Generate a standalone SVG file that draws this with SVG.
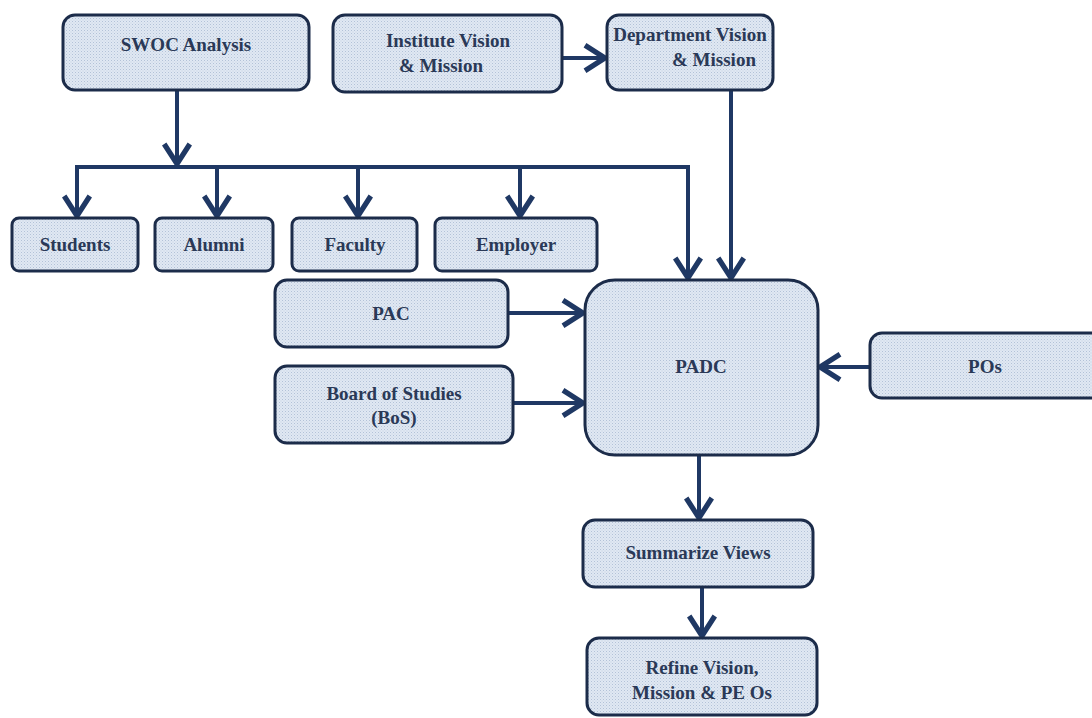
<svg xmlns="http://www.w3.org/2000/svg" width="1092" height="718" viewBox="0 0 1092 718">
  <defs>
    <!-- fine dotted fill used inside every box -->
    <pattern id="dots" width="3" height="3" patternUnits="userSpaceOnUse">
      <rect width="3" height="3" fill="#e0e8f3"/>
      <rect x="0" y="0" width="1" height="1" fill="#b3c2d7"/>
      <rect x="1.5" y="1.5" width="1" height="1" fill="#c4d1e2"/>
    </pattern>
    <marker id="arrow" markerWidth="8" markerHeight="8" refX="6.2" refY="4" orient="auto" markerUnits="strokeWidth" viewBox="0 0 8 8">
      <path d="M1.2,0.8 L6.2,4 L1.2,7.2" fill="none" stroke="#1f3864" stroke-width="1.3" stroke-linejoin="miter"/>
    </marker>
    <style>
      .box { fill: url(#dots); stroke: #1c2c4a; stroke-width: 3; }
      .lbl { font-family: "Liberation Serif", "Times New Roman", serif; font-weight: bold; font-size: 19px; fill: #2a3957; text-anchor: middle; }
      .wire { fill: none; stroke: #1f3864; stroke-width: 4; }
      .arr { marker-end: url(#arrow); }
    </style>
  </defs>

  <rect width="1092" height="718" fill="#ffffff"/>

  <!-- connectors -->
  <g id="connectors">
    <path class="wire arr" d="M177,90 V164"/>
    <path class="wire" d="M75,167 H688 V170"/>
    <path class="wire arr" d="M77,167 V216"/>
    <path class="wire arr" d="M217,167 V216"/>
    <path class="wire arr" d="M358,167 V216"/>
    <path class="wire arr" d="M520,167 V216"/>
    <path class="wire arr" d="M688,167 V278"/>
    <path class="wire arr" d="M562,58 H605"/>
    <path class="wire arr" d="M731,90 V278"/>
    <path class="wire arr" d="M508,313 H583"/>
    <path class="wire arr" d="M513,403 H583"/>
    <path class="wire arr" d="M870,367 H820"/>
    <path class="wire arr" d="M699,455 V518"/>
    <path class="wire arr" d="M702,587 V636"/>
  </g>

  <g id="swoc">
    <rect class="box" x="63" y="15" width="246" height="75" rx="12"/>
    <text class="lbl" x="186" y="51">SWOC Analysis</text>
  </g>

  <g id="institute">
    <rect class="box" x="333" y="15" width="229" height="77" rx="12"/>
    <text class="lbl" x="448" y="47">Institute Vision</text>
    <text class="lbl" x="441" y="72">&amp; Mission</text>
  </g>

  <g id="department">
    <rect class="box" x="607" y="15" width="166" height="75" rx="12"/>
    <text class="lbl" x="690" y="41">Department Vision</text>
    <text class="lbl" x="714" y="66">&amp; Mission</text>
  </g>

  <g id="students">
    <rect class="box" x="12" y="218" width="126" height="53" rx="7"/>
    <text class="lbl" x="75" y="251">Students</text>
  </g>

  <g id="alumni">
    <rect class="box" x="155" y="218" width="118" height="53" rx="7"/>
    <text class="lbl" x="214" y="251">Alumni</text>
  </g>

  <g id="faculty">
    <rect class="box" x="292" y="218" width="125" height="53" rx="7"/>
    <text class="lbl" x="355" y="251">Faculty</text>
  </g>

  <g id="employer">
    <rect class="box" x="435" y="218" width="162" height="53" rx="7"/>
    <text class="lbl" x="516" y="251">Employer</text>
  </g>

  <g id="pac">
    <rect class="box" x="275" y="280" width="233" height="67" rx="12"/>
    <text class="lbl" x="391" y="320">PAC</text>
  </g>

  <g id="bos">
    <rect class="box" x="275" y="366" width="238" height="77" rx="12"/>
    <text class="lbl" x="394" y="400">Board of Studies</text>
    <text class="lbl" x="394" y="424">(BoS)</text>
  </g>

  <g id="padc">
    <rect class="box" x="585" y="280" width="233" height="175" rx="30"/>
    <text class="lbl" x="701" y="373">PADC</text>
  </g>

  <g id="pos">
    <rect class="box" x="870" y="333" width="240" height="65" rx="12"/>
    <text class="lbl" x="985" y="373">POs</text>
  </g>

  <g id="summarize">
    <rect class="box" x="583" y="520" width="230" height="67" rx="12"/>
    <text class="lbl" x="698" y="559">Summarize Views</text>
  </g>

  <g id="refine">
    <rect class="box" x="587" y="638" width="230" height="77" rx="12"/>
    <text class="lbl" x="702" y="674">Refine Vision,</text>
    <text class="lbl" x="702" y="699">Mission &amp; PE Os</text>
  </g>
</svg>
